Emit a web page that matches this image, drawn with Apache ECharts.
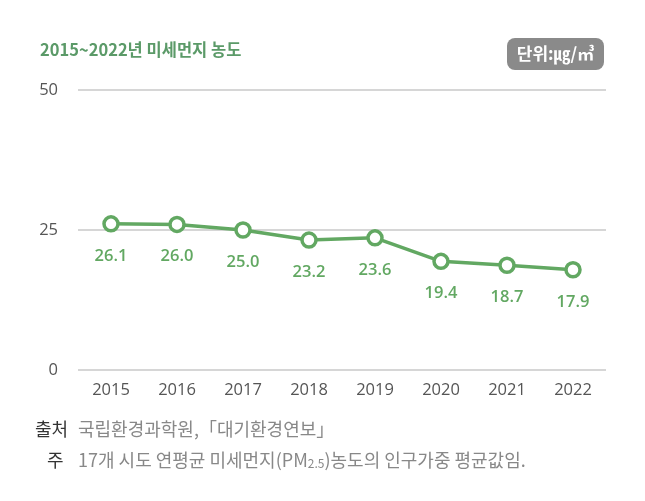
<!DOCTYPE html>
<html>
<head>
<meta charset="utf-8">
<script src="https://cdn.jsdelivr.net/npm/echarts@6/dist/echarts.min.js"></script>
<style>
html,body{margin:0;padding:0;background:#fff;}
#main{width:645px;height:501px;}
</style>
</head>
<body>
<div id="main"></div>
<script>
var years = ['2015','2016','2017','2018','2019','2020','2021','2022']
var pm25 = [26.1, 26.0, 25.0, 23.2, 23.6, 19.4, 18.7, 17.9]
var yTicks = [0, 25, 50]

var font = '"Noto Sans CJK KR","Noto Sans",sans-serif'
var numFont = '"Open Sans",sans-serif'
var green = '#62a862'

var myChart = echarts.init(document.getElementById('main'))
var option = {
	animation: false,
	title: {
		text: '2015~2022년 미세먼지 농도',
		left: 35, top: 36,
		textStyle: {color: '#5b9a68', fontSize: 16.5, fontWeight: 'bold', fontFamily: font}
	},
	grid: {left: 78, right: 39, top: 90, bottom: 131},
	xAxis: {
		type: 'category',
		data: years,
		axisLine: {show: false},
		axisTick: {show: false},
		axisLabel: {color: '#555', fontSize: 16.5, margin: 12, fontFamily: numFont}
	},
	yAxis: {
		type: 'value',
		min: 0, max: 50, interval: 25,
		axisLine: {show: false},
		axisTick: {show: false},
		splitLine: {lineStyle: {color: '#c8c8c8', width: 1.5}},
		axisLabel: {color: '#555', fontSize: 16.5, margin: 20, fontFamily: numFont,
			formatter: function(v){ return yTicks.indexOf(v) >= 0 ? v : '' }}
	},
	series: [{
		type: 'line',
		data: pm25,
		symbol: 'circle',
		symbolSize: 14,
		lineStyle: {color: green, width: 3.5},
		itemStyle: {color: '#fff', borderColor: green, borderWidth: 3.5},
		label: {
			show: true, position: 'bottom', distance: 15,
			color: green, fontSize: 16.5, fontWeight: 600, fontFamily: numFont,
			formatter: function(p){ return p.value.toFixed(1) }
		}
	}],
	graphic: [{
		type: 'group', left: 507, top: 38,
		children: [{
			type: 'rect',
			shape: {x: 0, y: 0, width: 97, height: 32, r: 8},
			style: {fill: '#8a8a8a'}
		}, {
			type: 'text',
			x: 48.5, y: 16,
			style: {text: '단위:㎍/㎥', fill: '#fff', fontSize: 17, fontWeight: 'bold', fontFamily: font,
				align: 'center', verticalAlign: 'middle'}
		}]
	}, {
		type: 'text', left: 35, top: 420,
		style: {text: '출처', fill: '#333', fontSize: 18, fontFamily: font}
	}, {
		type: 'text', left: 78, top: 420,
		style: {text: '국립환경과학원,「대기환경연보」', fill: '#888', fontSize: 18, fontFamily: font}
	}, {
		type: 'text', left: 47, top: 451,
		style: {text: '주', fill: '#333', fontSize: 18, fontFamily: font}
	}, {
		type: 'text', left: 78, top: 451,
		style: {
			text: '{b|17개 시도 연평균 미세먼지(PM}{s|2.5}{b|)농도의 인구가중 평균값임.}',
			rich: {
				b: {fill: '#888', fontSize: 18, fontFamily: font},
				s: {fill: '#888', fontSize: 12, fontFamily: font, verticalAlign: 'bottom'}
			}
		}
	}]
}
myChart.setOption(option)
</script>
</body>
</html>
